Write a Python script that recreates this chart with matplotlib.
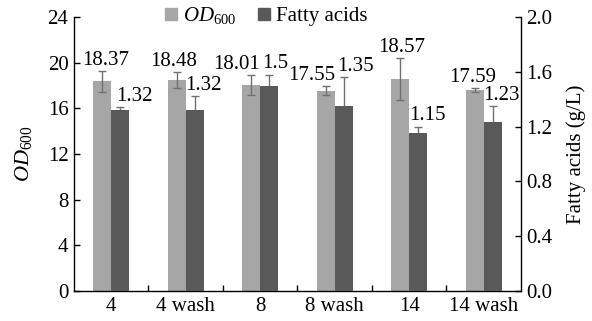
import matplotlib
matplotlib.use("Agg")
import matplotlib.pyplot as plt
import numpy as np
from matplotlib.lines import Line2D

categories = ["4", "4 wash", "8", "8 wash", "14", "14 wash"]
od600 = [18.37, 18.48, 18.01, 17.55, 18.57, 17.59]
od600_err = [0.90, 0.66, 0.88, 0.38, 1.86, 0.19]
fatty = [1.32, 1.32, 1.50, 1.35, 1.15, 1.23]
fatty_err = [0.02, 0.10, 0.08, 0.21, 0.05, 0.12]
od_labels = ["18.37", "18.48", "18.01", "17.55", "18.57", "17.59"]
fa_labels = ["1.32", "1.32", "1.5", "1.35", "1.15", "1.23"]
# label horizontal nudges (points) to mimic the manual placement
od_dx = [2.5, -2, -10.5, -10, 1, -1.5]
fa_dx = [10, 6.5, 4.5, 8.5, 7, 6]

plt.rcParams['font.family'] = ['Liberation Serif', 'DejaVu Serif']
plt.rcParams['mathtext.fontset'] = 'custom'
plt.rcParams['mathtext.rm'] = 'Liberation Serif'
plt.rcParams['mathtext.it'] = 'Liberation Serif:italic'

light = '#a6a6a6'
dark = '#595959'
ecol = '#707070'
fs = 15

fig = plt.figure(figsize=(5.92, 3.21), dpi=100)
ax = fig.add_axes([0.125, 0.0935, 0.755, 0.8535])
ax2 = ax.twinx()

x = np.arange(len(categories))
w = 0.24
ax.bar(x - w/2, od600, w, color=light, zorder=2)
ax.errorbar(x - w/2, od600, yerr=od600_err, fmt='none', ecolor=ecol,
            elinewidth=1, capsize=3, capthick=1, zorder=3)

ax2.bar(x + w/2, fatty, w, color=dark, zorder=2)
ax2.errorbar(x + w/2, fatty, yerr=fatty_err, fmt='none', ecolor=ecol,
             elinewidth=1, capsize=3, capthick=1, zorder=1)

for i in range(len(categories)):
    ax.annotate(od_labels[i], (x[i] - w/2, od600[i] + od600_err[i]),
                xytext=(od_dx[i], 4.5), textcoords='offset points',
                ha='center', va='baseline', fontsize=fs)
    ax2.annotate(fa_labels[i], (x[i] + w/2, fatty[i] + fatty_err[i]),
                 xytext=(fa_dx[i], 4.5), textcoords='offset points',
                 ha='center', va='baseline', fontsize=fs)

ax.set_xlim(-0.5, len(categories) - 0.5)
ax.set_ylim(0, 24)
ax2.set_ylim(0, 2.0)
ax.set_yticks(np.arange(0, 25, 4))
ax2.set_yticks(np.arange(0, 2.01, 0.4))
ax2.set_yticklabels([f"{v:.1f}" for v in np.arange(0, 2.01, 0.4)])

ax.set_xticks(x)
ax.set_xticklabels(categories)
ax.set_xticks(np.arange(0.5, len(categories) - 0.5, 1), minor=True)
ax.tick_params(axis='x', which='major', length=0, labelsize=fs, pad=4)
ax.tick_params(axis='x', which='minor', direction='in', length=4, width=1)
ax.tick_params(axis='y', direction='in', length=4, width=1, labelsize=fs, pad=4)
ax2.tick_params(axis='y', direction='in', length=4, width=1, labelsize=fs, pad=4)

for a in (ax, ax2):
    a.spines['top'].set_visible(False)
    for s in ('left', 'right', 'bottom'):
        a.spines[s].set_linewidth(1)
ax.spines['right'].set_visible(False)
ax2.spines['left'].set_visible(False)
ax2.spines['bottom'].set_visible(False)

ax.set_ylabel(r'$\it{OD}_{\rm 600}$', fontsize=16, labelpad=10)
ax2.set_ylabel('Fatty acids (g/L)', fontsize=fs, labelpad=10)

handles = [Line2D([], [], marker='s', linestyle='none', color=light, markersize=8),
           Line2D([], [], marker='s', linestyle='none', color=dark, markersize=8)]
fig.legend(handles, [r'$\it{OD}_{\rm 600}$', 'Fatty acids'], loc='center',
           bbox_to_anchor=(266/592, 1 - 16/321), ncol=2, frameon=False,
           fontsize=fs, handlelength=0.6, handletextpad=0.3, columnspacing=1.0,
           borderpad=0)

fig.savefig('out.png', dpi=100)
